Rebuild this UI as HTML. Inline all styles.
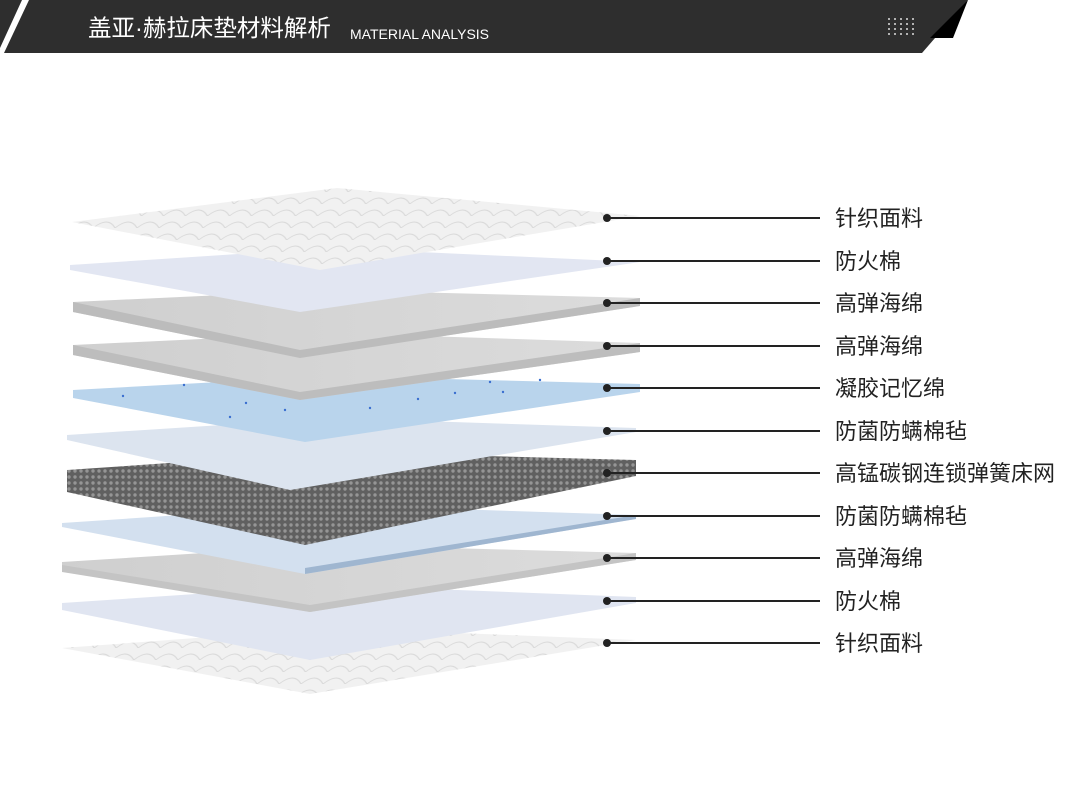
<!DOCTYPE html>
<html><head><meta charset="utf-8"><style>
body{margin:0;width:1080px;height:789px;background:#fff;overflow:hidden;font-family:"Liberation Sans","Noto Sans CJK SC",sans-serif}
</style></head><body>
<svg width="1080" height="789" viewBox="0 0 1080 789" xmlns="http://www.w3.org/2000/svg">
<defs>
<pattern id="knit" width="22" height="12" patternUnits="userSpaceOnUse" patternTransform="skewX(-20)">
<rect width="22" height="12" fill="#f1f1f1"/><path d="M0 12 Q11 0 22 12" fill="none" stroke="#d8d8d8" stroke-width="1"/></pattern>
<pattern id="spring" width="6" height="6" patternUnits="userSpaceOnUse">
<rect width="6" height="6" fill="#606060"/><circle cx="3" cy="3" r="1.7" fill="#959595"/></pattern>
<linearGradient id="gf" x1="0" y1="0" x2="1" y2="0"><stop offset="0" stop-color="#cfcfcf"/><stop offset="1" stop-color="#dcdcdc"/></linearGradient>
</defs>
<!-- header -->
<polygon points="0,0 22,0 0,48" fill="#2e2e2e"/>
<polygon points="29,0 968,0 922,53 4,53" fill="#2e2e2e"/>
<polygon points="968,0 953,38 930,38" fill="#000"/>
<text x="88" y="36" fill="#fff" font-size="23.5">盖亚·赫拉床垫材料解析</text>
<text x="350" y="39" fill="#fff" font-size="14">MATERIAL ANALYSIS</text>
<g fill="#ddd">
<g id="dr"><circle cx="889" cy="19" r="1"/><circle cx="895" cy="19" r="1"/><circle cx="901" cy="19" r="1"/><circle cx="907" cy="19" r="1"/><circle cx="913" cy="19" r="1"/></g>
<use href="#dr" y="5"/><use href="#dr" y="10"/><use href="#dr" y="15"/>
</g>
<!-- layers bottom to top -->
<g>
<polygon points="62,648 330,628 636,640 310,694" fill="url(#knit)"/>
<polygon points="62,603 330,585 636,597 636,603 310,660 62,610" fill="#e0e5f1"/>
<polygon points="62,562 330,545 636,553 636,560 310,612 62,570" fill="url(#gf)"/>
<polygon points="62,565 310,605 636,553 636,560 310,612 62,572" fill="#c4c4c4"/>
<polygon points="62,523 330,505 636,515 636,519 305,574 62,527" fill="#d3e0ef"/>
<polygon points="305,568 636,515 636,519 305,574" fill="#9fb6d0"/>
<polygon points="67,470 330,452 636,460 636,476 305,545 67,492" fill="url(#spring)"/>
<polygon points="67,435 330,418 636,428 636,432 290,490 67,440" fill="#dce4ef"/>
<polygon points="73,390 330,376 640,384 640,392 305,442 73,398" fill="#b9d4ec"/>
<g fill="#3a6fd0"><circle cx="123" cy="396" r="1.2"/><circle cx="184" cy="385" r="1.2"/><circle cx="246" cy="403" r="1.2"/><circle cx="370" cy="408" r="1.2"/><circle cx="418" cy="399" r="1.2"/><circle cx="455" cy="393" r="1.2"/><circle cx="503" cy="392" r="1.2"/><circle cx="490" cy="382" r="1.2"/><circle cx="540" cy="380" r="1.2"/><circle cx="285" cy="410" r="1.2"/><circle cx="230" cy="417" r="1.2"/></g>
<polygon points="73,345 330,333 640,343 640,352 300,400 73,355" fill="url(#gf)"/>
<polygon points="73,345 300,392 640,343 640,352 300,400 73,355" fill="#bdbdbd"/>
<polygon points="73,302 330,290 640,298 640,306 300,358 73,312" fill="url(#gf)"/>
<polygon points="73,302 300,350 640,298 640,306 300,358 73,312" fill="#bcbcbc"/>
<polygon points="70,265 330,248 640,262 300,312 70,270" fill="#e2e6f2"/>
<polygon points="72,222 337,188 640,216 320,270" fill="url(#knit)"/>
</g>
<!-- callouts -->
<g stroke="#222" stroke-width="2">
<line x1="607" y1="218" x2="820" y2="218"/><line x1="607" y1="261" x2="820" y2="261"/><line x1="607" y1="303" x2="820" y2="303"/><line x1="607" y1="346" x2="820" y2="346"/><line x1="607" y1="388" x2="820" y2="388"/><line x1="607" y1="431" x2="820" y2="431"/><line x1="607" y1="473" x2="820" y2="473"/><line x1="607" y1="516" x2="820" y2="516"/><line x1="607" y1="558" x2="820" y2="558"/><line x1="607" y1="601" x2="820" y2="601"/><line x1="607" y1="643" x2="820" y2="643"/>
</g>
<g fill="#222">
<circle cx="607" cy="218" r="4"/><circle cx="607" cy="261" r="4"/><circle cx="607" cy="303" r="4"/><circle cx="607" cy="346" r="4"/><circle cx="607" cy="388" r="4"/><circle cx="607" cy="431" r="4"/><circle cx="607" cy="473" r="4"/><circle cx="607" cy="516" r="4"/><circle cx="607" cy="558" r="4"/><circle cx="607" cy="601" r="4"/><circle cx="607" cy="643" r="4"/>
</g>
<g fill="#222" font-size="22">
<text x="835" y="226">针织面料</text>
<text x="835" y="269">防火棉</text>
<text x="835" y="311">高弹海绵</text>
<text x="835" y="354">高弹海绵</text>
<text x="835" y="396">凝胶记忆绵</text>
<text x="835" y="439">防菌防螨棉毡</text>
<text x="835" y="481">高锰碳钢连锁弹簧床网</text>
<text x="835" y="524">防菌防螨棉毡</text>
<text x="835" y="566">高弹海绵</text>
<text x="835" y="609">防火棉</text>
<text x="835" y="651">针织面料</text>
</g>
</svg>
</body></html>
